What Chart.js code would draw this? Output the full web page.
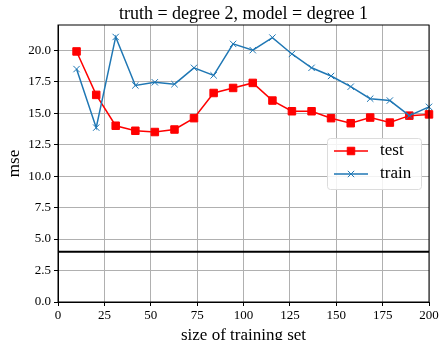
<!DOCTYPE html>
<html>
<head>
<meta charset="utf-8">
<script src="https://cdn.jsdelivr.net/npm/chart.js@4"></script>
<style>
  html, body { margin: 0; padding: 0; background: #fff; }
  #wrap { width: 441px; height: 340px; }
</style>
</head>
<body>
<div id="wrap"><canvas id="mainChart"></canvas></div>
<script>
// training set sizes
const sizes = [10, 20.6, 31.1, 41.7, 52.2, 62.8, 73.3, 83.9, 94.4, 105,
               115.6, 126.1, 136.7, 147.2, 157.8, 168.3, 178.9, 189.4, 200];
const testMse = [19.9, 16.45, 14.0, 13.6, 13.5, 13.7, 14.6, 16.6, 17.0, 17.4,
                 16.0, 15.15, 15.15, 14.6, 14.2, 14.65, 14.25, 14.8, 14.9];
const trainMse = [18.5, 13.85, 21.05, 17.2, 17.45, 17.3, 18.6, 18.0, 20.5, 20.0,
                  21.0, 19.7, 18.6, 17.95, 17.1, 16.15, 16.0, 14.8, 15.5];
const noiseLevel = 4;
const xRange = [0, 200];
const yTicks = [0, 2.5, 5, 7.5, 10, 12.5, 15, 17.5, 20];
const titleText = 'truth = degree 2, model = degree 1';

const FONT = "'Liberation Serif', 'DejaVu Serif', serif";

function toPoints(xs, ys) {
    return xs.map((x, i) => ({ x: x, y: ys[i] }));
}

// title centred over the plot area (matplotlib style)
const axesTitle = {
    id: 'axesTitle',
    afterDraw(chart) {
        const a = chart.chartArea;
        const c = chart.ctx;
        c.save();
        c.fillStyle = '#000';
        c.font = '18px ' + FONT;
        c.textAlign = 'center';
        c.textBaseline = 'alphabetic';
        c.fillText(titleText, (a.left + a.right) / 2, a.top - 6);
        c.restore();
    }
};

// legend drawn inside the plot, like matplotlib's "best" location
const innerLegend = {
    id: 'innerLegend',
    afterDraw(chart) {
        const ctx = chart.ctx;
        const area = chart.chartArea;
        const w = 94, h = 51;
        const x0 = area.right - w - 8;
        const y0 = 138;
        ctx.save();
        ctx.fillStyle = 'rgba(255,255,255,0.85)';
        ctx.strokeStyle = '#dcdcdc';
        ctx.lineWidth = 1;
        ctx.beginPath();
        ctx.roundRect(x0 + 0.5, y0 + 0.5, w, h, 3);
        ctx.fill();
        ctx.stroke();
        const items = chart.data.datasets.slice(0, 2);
        items.forEach((ds, i) => {
            const yy = y0 + 13 + i * 23;
            ctx.strokeStyle = ds.borderColor;
            ctx.fillStyle = ds.pointBackgroundColor;
            ctx.lineWidth = 1.5;
            ctx.beginPath();
            ctx.moveTo(x0 + 7, yy);
            ctx.lineTo(x0 + 41, yy);
            ctx.stroke();
            ctx.lineWidth = 1;
            Chart.helpers.drawPoint(ctx, {
                pointStyle: ds.pointStyle,
                radius: ds.pointRadius,
                borderWidth: 1
            }, x0 + 24, yy);
            ctx.fillStyle = '#000';
            ctx.font = '17px ' + FONT;
            ctx.textBaseline = 'middle';
            ctx.fillText(ds.label, x0 + 53, yy);
        });
        ctx.restore();
    }
};

const ctxMain = document.getElementById('mainChart').getContext('2d');
window.mainChart = new Chart(ctxMain, {
    type: 'line',
    data: {
        datasets: [{
            label: 'test',
            data: toPoints(sizes, testMse),
            borderColor: '#ff0000',
            backgroundColor: '#ff0000',
            pointBackgroundColor: '#ff0000',
            pointBorderColor: '#ff0000',
            pointStyle: 'rect',
            pointRadius: 5.3,
            pointBorderWidth: 1,
            borderWidth: 1.5,
            fill: false,
            clip: false,
            order: 2
        }, {
            label: 'train',
            data: toPoints(sizes, trainMse),
            borderColor: '#1f77b4',
            backgroundColor: '#1f77b4',
            pointBackgroundColor: '#1f77b4',
            pointBorderColor: '#1f77b4',
            pointStyle: 'crossRot',
            pointRadius: 4.5,
            pointBorderWidth: 1,
            borderWidth: 1.5,
            fill: false,
            clip: false,
            order: 1
        }, {
            label: 'noise',
            data: [{ x: xRange[0], y: noiseLevel }, { x: xRange[1], y: noiseLevel }],
            borderColor: '#000',
            borderWidth: 2,
            pointRadius: 0,
            fill: false,
            order: 0
        }]
    },
    options: {
        responsive: true,
        maintainAspectRatio: false,
        animation: false,
        layout: { padding: { left: 0, right: 12, top: 25, bottom: 0 } },
        plugins: {
            legend: { display: false },
            tooltip: { enabled: false },
            title: { display: false }
        },
        scales: {
            x: {
                type: 'linear',
                min: xRange[0],
                max: xRange[1],
                afterFit(scale) { scale.height = 38; },
                ticks: {
                    stepSize: 25,
                    color: '#000',
                    font: { family: FONT, size: 13 },
                    maxRotation: 0,
                    padding: 2
                },
                grid: { color: '#b0b0b0', lineWidth: 1, tickColor: '#000', tickLength: 4 },
                border: { color: '#000', width: 1 },
                title: {
                    display: true,
                    text: 'size of training set',
                    color: '#000',
                    font: { family: FONT, size: 17 },
                    padding: { top: 0, bottom: -6 }
                }
            },
            y: {
                min: 0,
                max: 22,
                afterFit(scale) { scale.width = 58; },
                afterBuildTicks(scale) {
                    scale.ticks = yTicks.map(v => ({ value: v }));
                },
                ticks: {
                    color: '#000',
                    font: { family: FONT, size: 13 },
                    padding: 3,
                    callback: v => v.toFixed(1)
                },
                grid: { color: '#b0b0b0', lineWidth: 1, tickColor: '#000', tickLength: 4 },
                border: { color: '#000', width: 1 },
                title: {
                    display: true,
                    text: 'mse',
                    color: '#000',
                    font: { family: FONT, size: 17 },
                    padding: { top: 4, bottom: 0 }
                }
            }
        }
    },
    plugins: [innerLegend, axesTitle, {
        id: 'frame',
        afterDraw(chart) {
            const a = chart.chartArea;
            const c = chart.ctx;
            c.save();
            c.strokeStyle = '#000';
            c.lineWidth = 1;
            c.strokeRect(a.left, a.top, a.right - a.left, a.bottom - a.top);
            c.restore();
        }
    }]
});
</script>
</body>
</html>
